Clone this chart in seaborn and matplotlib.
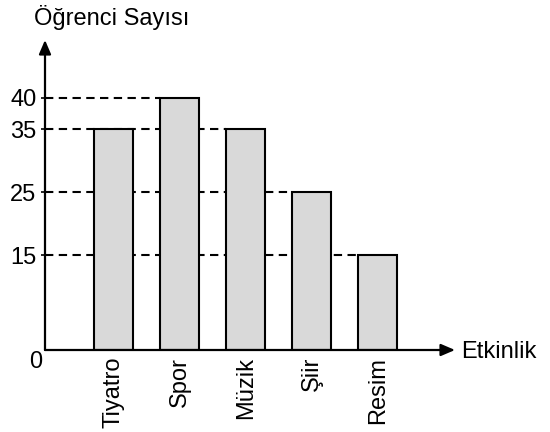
import matplotlib
matplotlib.use("Agg")
import matplotlib.pyplot as plt
import seaborn as sns
import pandas as pd

categories = ["Tiyatro", "Spor", "Müzik", "Şiir", "Resim"]
values = [35, 40, 35, 25, 15]
ytick_values = [0, 15, 25, 35, 40]
ylabel = "Öğrenci Sayısı"
xlabel = "Etkinlik"

sns.set_theme(style="white")
plt.rcParams['font.family'] = ['Liberation Sans', 'DejaVu Sans']
plt.rcParams['text.color'] = 'black'
plt.rcParams['xtick.color'] = 'black'
plt.rcParams['ytick.color'] = 'black'
plt.rcParams['xtick.labelcolor'] = 'black'
plt.rcParams['ytick.labelcolor'] = 'black'

df = pd.DataFrame({"Etkinlik": categories, "Sayi": values})

fig = plt.figure(figsize=(5.5, 4.32), dpi=100)
ax = fig.add_axes([45/550, 82/432, 410/550, 310/432])

bw = 0.59
sns.barplot(data=df, x="Etkinlik", y="Sayi", ax=ax, color="#d9d9d9",
            edgecolor="black", linewidth=1.5, width=bw, saturation=1, zorder=3)

xmin, xmax = -1.04, 5.17
ax.set_xlim(xmin, xmax)
ax.set_ylim(0, 49.2)

# dashed guide lines behind bars
for v in sorted(set(values)):
    last = max(i for i, val in enumerate(values) if val == v)
    ax.plot([xmin, last - bw/2], [v, v], color="black", lw=1.5,
            linestyle=(0, (4, 2.6)), zorder=1, clip_on=False)

for s in ax.spines.values():
    s.set_visible(False)
ax.set_xlabel("")
ax.set_ylabel("")

fs = 17
# y tick labels
ax.set_yticks([t for t in ytick_values if t != 0])
ax.set_yticklabels([str(t) for t in ytick_values if t != 0], fontsize=fs)
ax.tick_params(axis='y', direction='out', length=3.2, width=1.2, pad=3, left=True)
fig.text(36/550, 1 - 362/432, "0", ha='center', va='center', fontsize=fs)

ax.set_xticks(range(len(categories)))
ax.set_xticklabels(categories, rotation=90, fontsize=fs, va='top')
ax.tick_params(axis='x', length=0, pad=5)

# axes arrows
ax.annotate("", xy=(1.0, 0), xytext=(0, 0), xycoords='axes fraction',
            arrowprops=dict(arrowstyle="-|>,head_length=0.7,head_width=0.3",
                            color="black", lw=1.6, shrinkA=0, shrinkB=0), zorder=5)
ax.annotate("", xy=(0, 1.0), xytext=(0, 0), xycoords='axes fraction',
            arrowprops=dict(arrowstyle="-|>,head_length=0.7,head_width=0.3",
                            color="black", lw=1.6, shrinkA=0, shrinkB=0), zorder=5)

fig.text(112/550, 1 - 18/432, ylabel, ha='center', va='center', fontsize=fs)
fig.text(461/550, 1 - 352/432, xlabel, ha='left', va='center', fontsize=fs)

fig.savefig("out.png", dpi=100)
